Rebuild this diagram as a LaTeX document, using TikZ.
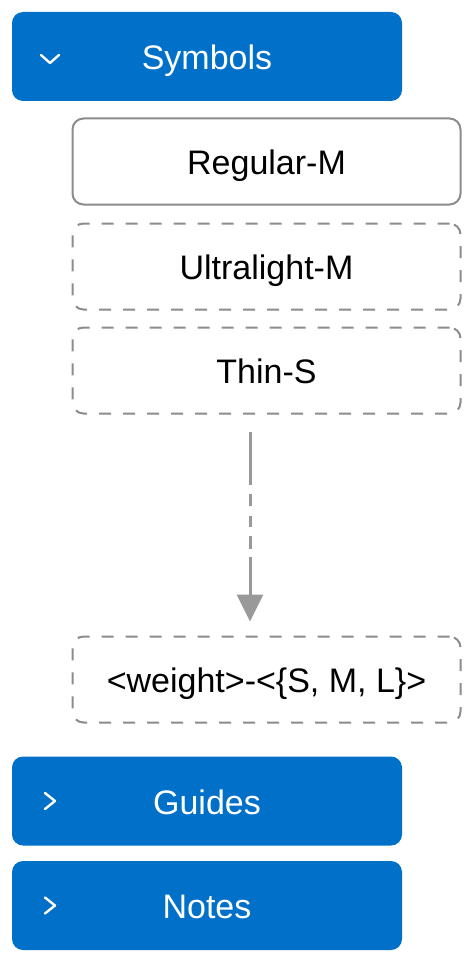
\documentclass[tikz,border=0pt]{standalone}
\usepackage{fontspec}
\setmainfont{Liberation Sans}
\usetikzlibrary{arrows.meta}
\definecolor{hdrblue}{RGB}{0,112,201}
\definecolor{boxgray}{RGB}{140,140,140}
\definecolor{arrgray}{RGB}{153,153,153}
\begin{document}
\begin{tikzpicture}[x=1pt,y=-1pt,
  lbl/.style={font=\fontsize{34}{40}\selectfont, text height=24.3pt, text depth=0pt, inner sep=0pt, outer sep=0pt},
  header/.style={lbl, rectangle, rounded corners=11pt, fill=hdrblue, text=white, minimum width=390pt, minimum height=89pt},
  solidbox/.style={lbl, rectangle, rounded corners=11pt, draw=boxgray, line width=2pt, fill=white, text=black, minimum width=388pt, minimum height=86pt},
  dashbox/.style={solidbox, dash pattern=on 12pt off 12pt},
  chev/.style={draw=white, line width=2.4pt, line cap=round, line join=round},
  flow/.style={draw=arrgray, line width=3pt, -{Triangle[length=27pt,width=26pt]}}
]
\useasboundingbox[fill=white] (0,0) rectangle (474,963);

\node[header] (sym) at (207,56.5) {\raisebox{-1.2pt}{Symbols}};
\node[solidbox] (reg) at (266.5,161.5) {\raisebox{-1.2pt}{Regular-M}};
\node[dashbox] (ult) at (266.5,266.5) {\raisebox{-1.2pt}{Ultralight-M}};
\node[dashbox] (thin) at (266.5,370.5) {\raisebox{-1.2pt}{Thin-S}};
\node[dashbox] (wgt) at (266.5,679.5) {\raisebox{-1.2pt}{<weight>-<\{S, M, L\}>}};
\node[header] (gd) at (207,801) {\raisebox{-1.2pt}{Guides}};
\node[header] (nt) at (207,905.5) {\raisebox{-1.2pt}{Notes}};

% chevrons
\draw[chev] ([shift={(29,-1.5)}]sym.west) -- ([shift={(38,6.5)}]sym.west) -- ([shift={(47,-1.5)}]sym.west);
\draw[chev] ([shift={(33,-8)}]gd.west) -- ([shift={(43,0)}]gd.west) -- ([shift={(33,8)}]gd.west);
\draw[chev] ([shift={(33,-8)}]nt.west) -- ([shift={(43,0)}]nt.west) -- ([shift={(33,8)}]nt.west);

% connector (offset left of the box centres, as in the reference)
\coordinate (c1) at ([xshift=-16.5pt]thin.south);
\coordinate (c2) at ([xshift=-16.5pt]wgt.north);
\draw[flow, shorten <=18pt, shorten >=15pt,
  dash pattern=on 53pt off 9pt on 12pt off 10pt on 11pt off 9pt on 13pt off 8pt on 200pt off 1pt]
  (c1) -- (c2);
\end{tikzpicture}
\end{document}
